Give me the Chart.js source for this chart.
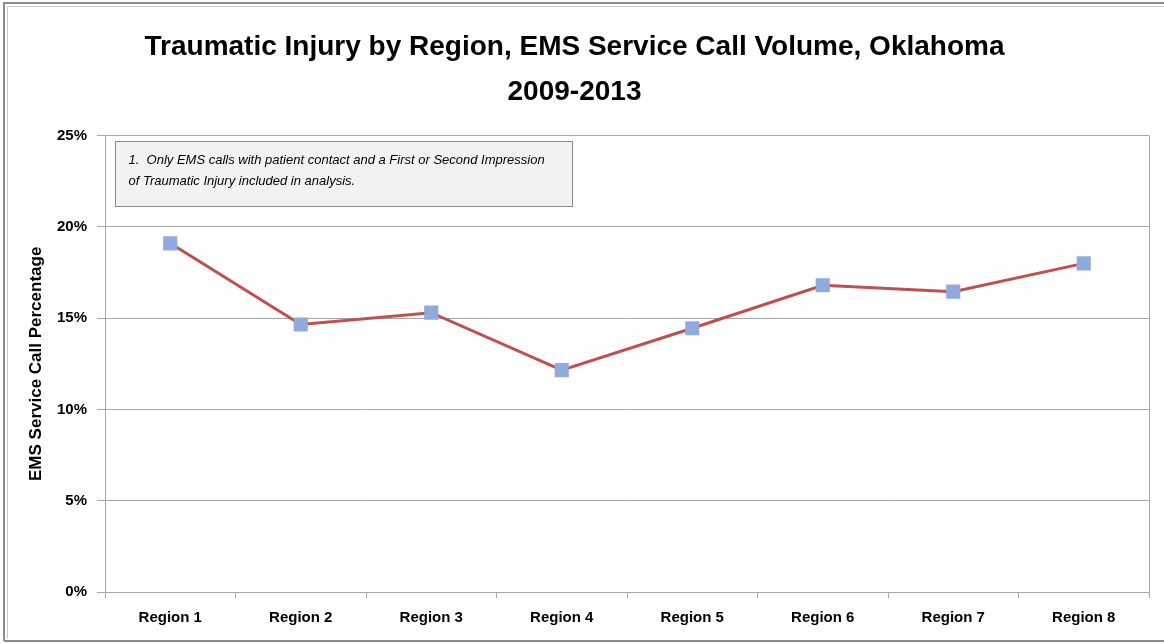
<!DOCTYPE html>
<html>
<head>
<meta charset="utf-8">
<script src="https://cdn.jsdelivr.net/npm/chart.js@4.4.1/dist/chart.umd.min.js"></script>
<style>
html,body{margin:0;padding:0;background:#fff;}
#wrap{width:1164px;height:644px;position:relative;}
</style>
</head>
<body>
<div id="wrap"><canvas id="c" width="1164" height="644"></canvas></div>
<script>
const categories = ["Region 1","Region 2","Region 3","Region 4","Region 5","Region 6","Region 7","Region 8"];
const callPct = [19.1, 14.65, 15.3, 12.15, 14.45, 16.8, 16.45, 18.0];
const yTicks = [0, 5, 10, 15, 20, 25];
const titleLines = ["Traumatic Injury by Region, EMS Service Call Volume, Oklahoma", "2009-2013"];
const yAxisTitle = "EMS Service Call Percentage";
const noteLines = ["1.  Only EMS calls with patient contact and a First or Second Impression", "of Traumatic Injury included in analysis."];

const FONT = "'Liberation Sans Narrow','Arial Narrow','Liberation Sans',Arial,sans-serif";

const decor = {
  id: 'decor',
  beforeDraw(chart) {
    const ctx = chart.ctx;
    ctx.save();
    ctx.fillStyle = '#fff';
    ctx.fillRect(0, 0, chart.width, chart.height);
    ctx.lineWidth = 2;
    ctx.strokeStyle = '#8c8c8c';
    ctx.beginPath();
    ctx.moveTo(4, 641); ctx.lineTo(4, 3); ctx.lineTo(1164, 3);
    ctx.moveTo(4, 641); ctx.lineTo(1164, 641);
    ctx.stroke();
    ctx.lineWidth = 1;
    ctx.strokeStyle = '#c8c8c8';
    ctx.beginPath();
    ctx.moveTo(7.5, 639); ctx.lineTo(7.5, 6.5); ctx.lineTo(1164, 6.5);
    ctx.stroke();
    ctx.restore();
  },
  beforeDatasetsDraw(chart) {
    const {ctx, chartArea: a} = chart;
    ctx.save();
    ctx.strokeStyle = '#a6a6a6';
    ctx.lineWidth = 1;
    ctx.beginPath();
    ctx.moveTo(Math.round(a.right) + 0.5, a.top);
    ctx.lineTo(Math.round(a.right) + 0.5, a.bottom);
    ctx.stroke();
    // note box
    const x = Math.round(a.left) + 10.5, y = Math.round(a.top) + 5.5, w = 457, h = 65;
    ctx.fillStyle = '#f2f2f2';
    ctx.fillRect(x, y, w, h);
    ctx.strokeStyle = '#8c8c8c';
    ctx.strokeRect(x, y, w, h);
    ctx.fillStyle = '#000';
    ctx.font = "italic 13px " + FONT;
    ctx.textBaseline = 'middle';
    ctx.fillText(noteLines[0], x + 13, y + 18.5);
    ctx.fillText(noteLines[1], x + 13, y + 39.5);
    ctx.restore();
  }
};

new Chart(document.getElementById('c'), {
  type: 'line',
  data: {
    labels: categories,
    datasets: [{
      data: callPct,
      borderColor: '#c0504d',
      borderWidth: 3,
      pointStyle: 'rect',
      pointRadius: 10,
      pointHoverRadius: 10,
      pointBackgroundColor: '#8faadc',
      pointBorderColor: '#8faadc',
      pointBorderWidth: 0,
      tension: 0,
      fill: false
    }]
  },
  options: {
    responsive: false,
    animation: false,
    devicePixelRatio: 1,
    layout: { padding: { left: 0, right: 15, top: 0, bottom: 0 } },
    plugins: {
      legend: { display: false },
      tooltip: { enabled: false },
      title: {
        display: true,
        text: titleLines,
        color: '#000',
        font: { family: FONT, size: 28, weight: 'bold', lineHeight: 1.6 },
        padding: { top: 25, bottom: 21 }
      }
    },
    scales: {
      x: {
        type: 'category',
        offset: true,
        grid: { display: true, offset: true, drawOnChartArea: false, drawTicks: true, tickLength: 6, color: '#a6a6a6' },
        border: { display: true, color: '#a6a6a6', width: 1 },
        ticks: { color: '#000', font: { family: FONT, size: 15, weight: 'bold' }, padding: 11, maxRotation: 0 },
        afterFit(s) { s.height = 52; }
      },
      y: {
        min: 0, max: 25,
        afterBuildTicks(s) { s.ticks = yTicks.map(v => ({ value: v })); },
        grid: { color: '#a6a6a6', tickLength: 8, drawTicks: true },
        border: { display: true, color: '#a6a6a6', width: 1 },
        ticks: { color: '#000', font: { family: FONT, size: 15, weight: 'bold' }, padding: 10, callback: v => v + '%' },
        title: {
          display: true, text: yAxisTitle, color: '#000',
          font: { family: FONT, size: 17, weight: 'bold' },
          padding: { top: 26, bottom: 0 }
        },
        afterFit(s) { s.width = 105; }
      }
    }
  },
  plugins: [decor]
});
</script>
</body>
</html>
